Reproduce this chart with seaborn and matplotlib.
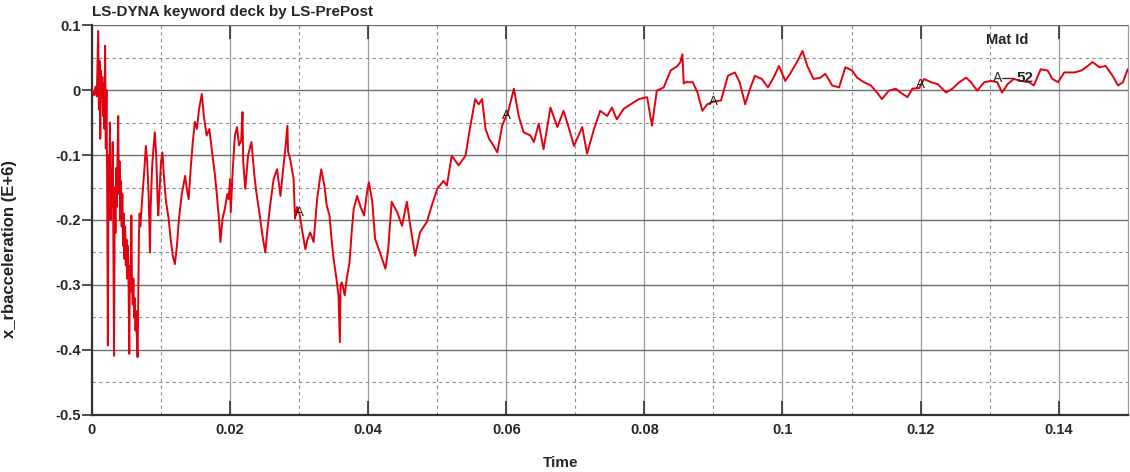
import numpy as np
import pandas as pd
import matplotlib
matplotlib.use("Agg")
import matplotlib.pyplot as plt
from matplotlib.ticker import MultipleLocator, FuncFormatter
import seaborn as sns

# x_rbacceleration history for Mat Id 52
time = [
    0.0000, 0.0003, 0.0005, 0.0007, 0.0009, 0.0010, 0.0011, 0.0012, 0.0013, 0.0014,
    0.0015, 0.0016, 0.0017, 0.0018, 0.0019, 0.0020, 0.0021, 0.0022, 0.0023, 0.0024,
    0.0025, 0.0026, 0.0027, 0.0028, 0.0029, 0.0030, 0.0031, 0.0032, 0.0033, 0.0034,
    0.0035, 0.0036, 0.0037, 0.0038, 0.0039, 0.0040, 0.0041, 0.0042, 0.0043, 0.0044,
    0.0045, 0.0046, 0.0047, 0.0048, 0.0049, 0.0050, 0.0051, 0.0052, 0.0053, 0.0054,
    0.0055, 0.0056, 0.0057, 0.0058, 0.0059, 0.0060, 0.0061, 0.0062, 0.0063, 0.0064,
    0.0065, 0.0066, 0.0067, 0.0068, 0.0069, 0.0070, 0.0072, 0.0074, 0.0076, 0.0078,
    0.0080, 0.0082, 0.0084, 0.0085, 0.0087, 0.0089, 0.0091, 0.0093, 0.0095, 0.0096,
    0.0098, 0.0100, 0.0102, 0.0104, 0.0107, 0.0111, 0.0114, 0.0117, 0.0120, 0.0123,
    0.0126, 0.0130, 0.0135, 0.0137, 0.0140, 0.0143, 0.0146, 0.0149, 0.0152, 0.0155,
    0.0159, 0.0162, 0.0166, 0.0170, 0.0174, 0.0178, 0.0181, 0.0184, 0.0186, 0.0189,
    0.0192, 0.0196, 0.0198, 0.0200, 0.0201, 0.0204, 0.0207, 0.0210, 0.0213, 0.0216,
    0.0218, 0.0219, 0.0222, 0.0226, 0.0231, 0.0235, 0.0238, 0.0243, 0.0247, 0.0251,
    0.0254, 0.0258, 0.0263, 0.0268, 0.0273, 0.0277, 0.0280, 0.0283, 0.0284, 0.0287,
    0.0292, 0.0294, 0.0297, 0.0301, 0.0305, 0.0309, 0.0312, 0.0316, 0.0321, 0.0326,
    0.0332, 0.0337, 0.0340, 0.0344, 0.0347, 0.0350, 0.0354, 0.0357, 0.0359, 0.0360,
    0.0362, 0.0366, 0.0369, 0.0373, 0.0376, 0.0379, 0.0384, 0.0389, 0.0394, 0.0398,
    0.0401, 0.0406, 0.0410, 0.0417, 0.0425, 0.0429, 0.0434, 0.0442, 0.0449, 0.0456,
    0.0461, 0.0468, 0.0475, 0.0485, 0.0492, 0.0500, 0.0509, 0.0514, 0.0521, 0.0531,
    0.0541, 0.0548, 0.0555, 0.0560, 0.0565, 0.0570, 0.0575, 0.0580, 0.0587, 0.0594,
    0.0603, 0.0611, 0.0618, 0.0625, 0.0635, 0.0640, 0.0647, 0.0654, 0.0664, 0.0674,
    0.0683, 0.0691, 0.0698, 0.0710, 0.0717, 0.0727, 0.0736, 0.0746, 0.0753, 0.0760,
    0.0770, 0.0780, 0.0792, 0.0804, 0.0811, 0.0818, 0.0828, 0.0838, 0.0848, 0.0852,
    0.0855, 0.0857, 0.0860, 0.0870, 0.0877, 0.0884, 0.0891, 0.0900, 0.0911, 0.0921,
    0.0931, 0.0938, 0.0946, 0.0953, 0.0960, 0.0970, 0.0979, 0.0987, 0.0995, 0.1004,
    0.1011, 0.1021, 0.1029, 0.1036, 0.1045, 0.1055, 0.1062, 0.1072, 0.1082, 0.1091,
    0.1101, 0.1108, 0.1118, 0.1128, 0.1137, 0.1144, 0.1154, 0.1164, 0.1171, 0.1181,
    0.1188, 0.1198, 0.1205, 0.1215, 0.1225, 0.1237, 0.1246, 0.1256, 0.1266, 0.1273,
    0.1282, 0.1292, 0.1302, 0.1311, 0.1318, 0.1326, 0.1335, 0.1345, 0.1357, 0.1364,
    0.1374, 0.1384, 0.1391, 0.1399, 0.1408, 0.1423, 0.1433, 0.1442, 0.1449, 0.1459,
    0.1468, 0.1478, 0.1486, 0.1493, 0.1500,
]
accel = [
    0.000, -0.008, 0.005, -0.010, 0.091, -0.030, 0.045, -0.075, 0.030, -0.010,
    0.020, -0.040, 0.010, -0.060, 0.068, -0.090, 0.000, -0.150, -0.393, -0.100,
    -0.160, -0.050, -0.200, -0.120, -0.180, -0.080, -0.250, -0.409, -0.150, -0.220,
    -0.120, -0.180, -0.100, -0.040, -0.160, -0.110, -0.200, -0.140, -0.210, -0.160,
    -0.240, -0.190, -0.260, -0.210, -0.270, -0.230, -0.290, -0.240, -0.300, -0.406,
    -0.270, -0.310, -0.193, -0.300, -0.330, -0.290, -0.350, -0.320, -0.370, -0.340,
    -0.380, -0.411, -0.330, -0.220, -0.190, -0.210, -0.178, -0.150, -0.120, -0.086,
    -0.110, -0.160, -0.250, -0.180, -0.120, -0.090, -0.065, -0.100, -0.170, -0.193,
    -0.150, -0.110, -0.096, -0.130, -0.170, -0.198, -0.230, -0.255, -0.268, -0.240,
    -0.198, -0.160, -0.132, -0.150, -0.168, -0.120, -0.080, -0.049, -0.060, -0.030,
    -0.006, -0.040, -0.070, -0.060, -0.096, -0.130, -0.163, -0.200, -0.234, -0.198,
    -0.185, -0.160, -0.168, -0.137, -0.188, -0.120, -0.070, -0.057, -0.085, -0.078,
    -0.034, -0.110, -0.152, -0.101, -0.080, -0.130, -0.157, -0.193, -0.225, -0.250,
    -0.215, -0.178, -0.137, -0.122, -0.163, -0.120, -0.091, -0.055, -0.095, -0.106,
    -0.137, -0.198, -0.180, -0.193, -0.220, -0.245, -0.230, -0.219, -0.234, -0.168,
    -0.122, -0.150, -0.178, -0.193, -0.230, -0.260, -0.290, -0.316, -0.388, -0.300,
    -0.296, -0.316, -0.290, -0.265, -0.220, -0.183, -0.163, -0.180, -0.193, -0.160,
    -0.142, -0.172, -0.229, -0.250, -0.275, -0.245, -0.172, -0.188, -0.209, -0.172,
    -0.209, -0.255, -0.219, -0.203, -0.178, -0.152, -0.140, -0.147, -0.101, -0.116,
    -0.101, -0.055, -0.014, -0.022, -0.014, -0.060, -0.075, -0.083, -0.096, -0.055,
    -0.032, 0.002, -0.040, -0.065, -0.070, -0.080, -0.052, -0.091, -0.027, -0.057,
    -0.032, -0.060, -0.086, -0.057, -0.098, -0.060, -0.032, -0.040, -0.027, -0.045,
    -0.029, -0.022, -0.014, -0.011, -0.055, -0.001, 0.004, 0.030, 0.037, 0.043,
    0.055, 0.010, 0.012, 0.012, -0.004, -0.032, -0.022, -0.018, -0.016, 0.022,
    0.027, 0.012, -0.022, 0.002, 0.022, 0.017, 0.004, 0.019, 0.037, 0.014,
    0.025, 0.043, 0.060, 0.037, 0.017, 0.019, 0.025, 0.007, 0.004, 0.035,
    0.030, 0.019, 0.012, 0.007, -0.004, -0.014, -0.001, 0.002, -0.004, -0.011,
    0.002, 0.003, 0.017, 0.012, 0.009, -0.004, 0.002, 0.012, 0.019, 0.012,
    -0.001, 0.012, 0.014, 0.012, -0.004, 0.009, 0.017, 0.014, 0.012, 0.007,
    0.032, 0.030, 0.017, 0.012, 0.027, 0.027, 0.030, 0.037, 0.043, 0.035,
    0.037, 0.022, 0.007, 0.012, 0.032,
]
marker_times = [0.03, 0.06, 0.09, 0.12]
part_label = "52"

df = pd.DataFrame({"Time": time, "acc": accel})

sns.set_style("white")
plt.rcParams['font.family'] = ['Liberation Sans', 'DejaVu Sans']

fig = plt.figure(figsize=(11.3, 4.72), dpi=100)
ax = fig.add_axes([0.0814, 0.1208, 0.9166, 0.8262])

sns.lineplot(data=df, x="Time", y="acc", ax=ax, color="#e3000f", lw=1.4,
             sort=False, estimator=None, zorder=3)

# curve id letters
for t in marker_times:
    ax.text(t, np.interp(t, time, accel), "A", fontsize=9.5, color="#111111",
            ha="center", va="center", zorder=4)

ax.set_xlim(0, 0.15)
ax.set_ylim(-0.5, 0.1)
ax.xaxis.set_major_locator(MultipleLocator(0.02))
ax.xaxis.set_minor_locator(MultipleLocator(0.01))
ax.yaxis.set_major_locator(MultipleLocator(0.1))
ax.yaxis.set_minor_locator(MultipleLocator(0.05))
fmt = FuncFormatter(lambda v, p: "0" if abs(v) < 1e-9 else "%g" % round(v, 3))
ax.xaxis.set_major_formatter(fmt)
ax.yaxis.set_major_formatter(fmt)

ax.grid(which="major", axis="x", color="#9a9a9a", lw=0.9, ls="-")
ax.grid(which="major", axis="y", color="#6e6e6e", lw=1.0, ls="-")
ax.grid(which="minor", color="#8c8c8c", lw=0.8, ls=(0, (3, 3)))

ax.tick_params(axis="x", which="major", direction="in", length=10, width=1.2,
               top=True, bottom=True, labelsize=10.5, pad=6, color="#333333")
ax.tick_params(axis="y", which="major", direction="out", length=7, width=1.2,
               left=True, labelsize=10.5, pad=1, color="#333333")
ax.tick_params(which="minor", length=0)
for lab in ax.get_xticklabels() + ax.get_yticklabels():
    lab.set_fontweight("bold")

for s in ["left", "bottom"]:
    ax.spines[s].set_color("#333333")
    ax.spines[s].set_linewidth(1.6)
ax.spines["top"].set_visible(False)
ax.spines["right"].set_color("#9a9a9a")
ax.spines["right"].set_linewidth(0.9)

ax.set_xlabel("Time", fontsize=11, fontweight="bold")
ax.xaxis.set_label_coords(0.452, -0.105)
ax.set_ylabel("x_rbacceleration (E+6)", fontsize=12, fontweight="bold", color="#222222")
ax.yaxis.set_label_coords(-0.072, 0.425)

fig.text(0.0814, 0.975, "LS-DYNA keyword deck by LS-PrePost", fontsize=11,
         fontweight="bold", ha="left", va="center")

# legend block
ax.text(0.884, 0.962, "Mat Id", transform=ax.transAxes, fontsize=10.5,
        fontweight="bold", ha="center", va="center")
ax.text(0.874, 0.865, "A", transform=ax.transAxes, fontsize=10, ha="center", va="center")
ax.plot([0.879, 0.890], [0.865, 0.865], transform=ax.transAxes, color="#333333", lw=1)
ax.text(0.893, 0.865, part_label, transform=ax.transAxes, fontsize=11,
        fontweight="bold", ha="left", va="center")

plt.savefig("out.png", dpi=100)
